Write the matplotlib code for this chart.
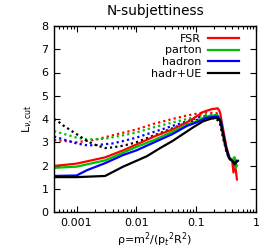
import matplotlib
matplotlib.use("Agg")
import matplotlib.pyplot as plt
from matplotlib.ticker import LogLocator, NullFormatter, FixedLocator

labels = ["FSR", "parton", "hadron", "hadr+UE"]
colors = ["#ff0000", "#00c000", "#0000ff", "#000000"]

# solid curves
fsr_x = [4.2e-4, 0.001, 0.003, 0.006, 0.01, 0.02, 0.04, 0.07, 0.1, 0.13, 0.18, 0.23, 0.25, 0.28, 0.32, 0.36, 0.40, 0.42, 0.44, 0.46, 0.48]
fsr_y = [1.98, 2.08, 2.35, 2.65, 2.9, 3.25, 3.55, 3.85, 4.1, 4.3, 4.42, 4.46, 4.3, 3.6, 2.8, 2.35, 2.2, 1.7, 2.1, 1.8, 1.4]
par_x = [4.2e-4, 0.001, 0.003, 0.006, 0.01, 0.02, 0.04, 0.07, 0.1, 0.15, 0.2, 0.23, 0.26, 0.3, 0.35, 0.40, 0.44, 0.46, 0.48]
par_y = [1.9, 1.95, 2.22, 2.55, 2.8, 3.1, 3.45, 3.75, 3.9, 4.1, 4.15, 4.15, 3.9, 3.0, 2.35, 2.2, 2.35, 1.9, 2.0]
had_x = [4.2e-4, 0.001, 0.0015, 0.003, 0.006, 0.01, 0.02, 0.04, 0.07, 0.1, 0.15, 0.2, 0.23, 0.26, 0.3, 0.35, 0.40, 0.45, 0.48]
had_y = [1.55, 1.57, 1.8, 2.1, 2.45, 2.65, 3.0, 3.35, 3.7, 3.85, 4.05, 4.1, 4.1, 3.9, 3.0, 2.35, 2.2, 2.1, 2.2]
ue_x = [4.2e-4, 0.001, 0.003, 0.006, 0.01, 0.015, 0.025, 0.04, 0.06, 0.09, 0.13, 0.18, 0.22, 0.25, 0.28, 0.32, 0.36, 0.40, 0.44, 0.47, 0.5]
ue_y = [1.5, 1.5, 1.55, 1.95, 2.2, 2.4, 2.75, 3.05, 3.35, 3.65, 3.9, 4.02, 4.05, 3.95, 3.4, 2.7, 2.3, 2.2, 2.05, 2.15, 2.2]

# dotted curves
fsr_d_x = [4.2e-4, 0.001, 0.002, 0.004, 0.01, 0.02, 0.04, 0.07, 0.13, 0.22, 0.25, 0.28, 0.32, 0.36, 0.40, 0.45, 0.48]
fsr_d_y = [3.1, 3.0, 3.1, 3.3, 3.55, 3.8, 4.0, 4.15, 4.28, 4.25, 4.0, 3.3, 2.6, 2.3, 2.2, 2.1, 2.0]
par_d_x = [4.2e-4, 0.001, 0.0015, 0.003, 0.006, 0.01, 0.02, 0.04, 0.07, 0.12, 0.2, 0.23, 0.26, 0.3, 0.35, 0.40, 0.44, 0.47, 0.5]
par_d_y = [3.48, 3.2, 3.12, 3.15, 3.3, 3.42, 3.65, 3.85, 4.0, 4.15, 4.2, 4.15, 3.8, 3.0, 2.35, 2.2, 2.4, 2.0, 2.1]
had_d_x = [4.2e-4, 0.001, 0.0015, 0.002, 0.004, 0.006, 0.01, 0.02, 0.04, 0.07, 0.12, 0.2, 0.23, 0.26, 0.3, 0.35, 0.40, 0.45, 0.5]
had_d_y = [3.25, 2.95, 2.87, 2.87, 2.95, 3.05, 3.2, 3.45, 3.7, 3.9, 4.1, 4.15, 4.1, 3.8, 3.0, 2.3, 2.2, 2.1, 2.15]
ue_d_x = [4.2e-4, 5e-4, 6e-4, 0.001, 0.0015, 0.002, 0.003, 0.004, 0.006, 0.01, 0.02, 0.04, 0.07, 0.12, 0.18, 0.22, 0.25, 0.28, 0.32, 0.36, 0.40, 0.45, 0.5]
ue_d_y = [4.0, 3.88, 3.72, 3.35, 3.05, 2.9, 2.75, 2.78, 2.85, 3.0, 3.3, 3.6, 3.85, 4.0, 4.05, 4.0, 3.8, 3.2, 2.6, 2.3, 2.2, 2.1, 2.2]

x_ticks = [0.001, 0.01, 0.1, 1]
x_ticklabels = ["0.001", "0.01", "0.1", "1"]
y_ticks = [0, 1, 2, 3, 4, 5, 6, 7, 8]

plt.rcParams['font.family'] = ['DejaVu Sans']
fig = plt.figure(figsize=(2.66, 2.5), dpi=100)
ax = fig.add_axes([54/266, 38/250, 202/266, 186/250])

solids = [(fsr_x, fsr_y), (par_x, par_y), (had_x, had_y), (ue_x, ue_y)]
dots = [(fsr_d_x, fsr_d_y), (par_d_x, par_d_y), (had_d_x, had_d_y), (ue_d_x, ue_d_y)]
for (xd, yd), c in zip(dots, colors):
    ax.plot(xd, yd, color=c, lw=1.6, linestyle=(0, (1, 1.4)), dash_capstyle='butt')
for (xs, ys), c, lab in zip(solids, colors, labels):
    ax.plot(xs, ys, color=c, lw=1.6, label=lab)

ax.set_xscale('log')
ax.set_xlim(4.2e-4, 1)
ax.set_ylim(0, 8)
ax.xaxis.set_major_locator(FixedLocator(x_ticks))
ax.set_xticklabels(x_ticklabels)
ax.xaxis.set_minor_locator(LogLocator(base=10, subs=range(2, 10)))
ax.xaxis.set_minor_formatter(NullFormatter())
ax.set_yticks(y_ticks)
ax.tick_params(which='both', direction='in', top=True, right=True, labelsize=8, pad=4)
ax.tick_params(which='major', length=4, width=0.8)
ax.tick_params(which='minor', length=2.5, width=0.8)
for s in ax.spines.values():
    s.set_linewidth(1.0)

ax.set_title("N-subjettiness", fontsize=9.8, pad=8)
ax.set_xlabel(r"ρ=m$^2$/(p$_t$$^2$R$^2$)", fontsize=8, labelpad=2)
ax.set_ylabel(r"L$_{ν,\mathrm{cut}}$", fontsize=8, labelpad=4)

ax.legend(loc='upper right', frameon=False, markerfirst=False, fontsize=8,
          handlelength=2.8, handletextpad=0.6, labelspacing=0.15,
          borderaxespad=0.3, bbox_to_anchor=(0.955, 1.0))

fig.savefig("out.png", dpi=100)
